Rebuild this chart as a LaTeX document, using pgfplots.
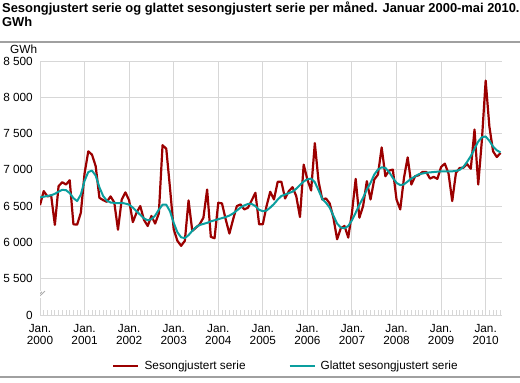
\documentclass[border=0pt]{standalone}
\usepackage{fontspec}
\setmainfont{Liberation Sans}
\usepackage{pgfplots}
\usepackage{pgfplotstable}
\pgfplotsset{compat=1.18}
\definecolor{sred}{RGB}{155,0,0}
\definecolor{steal}{RGB}{10,158,158}
\definecolor{gridgray}{RGB}{215,215,215}
\definecolor{rulegray}{RGB}{160,160,160}

\pgfplotstableread{
m red teal
0 6515 6620
1 6707 6630
2 6634 6640
3 6647 6650
4 6241 6670
5 6775 6700
6 6830 6725
7 6798 6720
8 6857 6680
9 6250 6610
10 6245 6570
11 6410 6660
12 6950 6850
13 7255 6970
14 7209 6990
15 7050 6920
16 6615 6760
17 6583 6640
18 6560 6575
19 6634 6550
20 6551 6545
21 6175 6540
22 6590 6545
23 6690 6535
24 6580 6520
25 6280 6480
26 6410 6430
27 6501 6380
28 6310 6330
29 6227 6305
30 6364 6320
31 6260 6370
32 6400 6450
33 7340 6520
34 7291 6520
35 6752 6430
36 6181 6270
37 6022 6140
38 5953 6070
39 6022 6060
40 6579 6100
41 6159 6160
42 6204 6210
43 6250 6240
44 6341 6255
45 6729 6270
46 6076 6290
47 6058 6305
48 6547 6320
49 6538 6335
50 6318 6350
51 6122 6370
52 6318 6400
53 6501 6440
54 6524 6480
55 6455 6510
56 6478 6530
57 6579 6530
58 6684 6500
59 6250 6450
60 6250 6430
61 6501 6440
62 6698 6480
63 6592 6530
64 6835 6590
65 6835 6640
66 6606 6660
67 6707 6680
68 6761 6700
69 6638 6740
70 6350 6790
71 7072 6840
72 6866 6870
73 6716 6880
74 7369 6830
75 6844 6720
76 6592 6600
77 6606 6547
78 6538 6480
79 6341 6370
80 6044 6260
81 6195 6205
82 6227 6195
83 6067 6227
84 6410 6305
85 6876 6410
86 6341 6520
87 6501 6615
88 6844 6729
89 6592 6821
90 6866 6935
91 6935 7004
92 7309 7035
93 6912 7026
94 6990 6971
95 7004 6889
96 6592 6821
97 6455 6790
98 6889 6800
99 7172 6840
100 6798 6880
101 6912 6910
102 6926 6940
103 6972 6950
104 6972 6960
105 6880 6965
106 6903 6970
107 6876 6975
108 7040 6980
109 7086 6980
110 6950 6980
111 6570 6980
112 6958 6985
113 7026 7000
114 7030 7040
115 7080 7110
116 7015 7190
117 7555 7290
118 6798 7390
119 7420 7450
120 8230 7460
121 7598 7400
122 7255 7320
123 7177 7270
124 7232 7240
}\datatable

\begin{document}
\begin{tikzpicture}
\path[use as bounding box] (0,0) rectangle (520bp,383bp);
\fill[rulegray] (0,340.3bp) rectangle (520bp,342.3bp);
\fill[rulegray] (0,5bp) rectangle (520bp,7bp);
\node[anchor=base west, inner sep=0pt, font=\fontsize{12.9bp}{14bp}\selectfont\bfseries] at (2bp,370.7bp) {Sesongjustert serie og glattet sesongjustert serie per måned. Januar 2000-mai 2010.};
\node[anchor=base west, inner sep=0pt, font=\fontsize{12.9bp}{14bp}\selectfont\bfseries] at (2bp,356.3bp) {GWh};
\node[anchor=base west, inner sep=0pt, font=\fontsize{11.8bp}{12bp}\selectfont] at (10bp,329.7bp) {GWh};
\begin{axis}[
  at={(40bp,68bp)}, anchor=south west,
  scale only axis, width=462bp, height=254bp,
  xmin=0, xmax=124.4, ymin=5000, ymax=8500,
  axis line style={draw=none},
  xtick={0,12,...,120},
  minor xtick={0,...,124},
  xticklabels={{Jan.\\2000},{Jan.\\2001},{Jan.\\2002},{Jan.\\2003},{Jan.\\2004},{Jan.\\2005},{Jan.\\2006},{Jan.\\2007},{Jan.\\2008},{Jan.\\2009},{Jan.\\2010}},
  ytick={5000,5500,6000,6500,7000,7500,8000,8500},
  yticklabels={0,5 500,6 000,6 500,7 000,7 500,8 000,8 500},
  xmajorgrids, ymajorgrids,
  grid style={draw=gridgray, line width=1bp},
  tick align=inside,
  xtick pos=left,
  major tick length=5bp, minor tick length=5bp,
  x tick style={draw=gridgray, line width=0.8bp},
  ytick style={draw=none},
  tick label style={font=\fontsize{11.8bp}{12bp}\selectfont},
  xticklabel style={align=center, anchor=north, inner sep=0pt, yshift=-9bp},
  yticklabel style={anchor=east, inner sep=0pt, xshift=-7bp},
  legend columns=2,
  legend style={at={(0.5325,-0.1996)}, anchor=center, draw=none, fill=none,
    font=\fontsize{11.8bp}{12bp}\selectfont,
    /tikz/every even column/.append style={column sep=41bp},
    /tikz/every odd column/.append style={column sep=3bp}},
  legend image code/.code={\draw[#1] (0bp,0bp) -- (25bp,0bp);},
]
\addplot[draw=sred, line width=2.2bp, line join=round] table[x=m, y=red] {\datatable};
\addlegendentry{Sesongjustert serie}
\addplot[draw=steal, line width=2bp, line join=round] table[x=m, y=teal] {\datatable};
\addlegendentry{Glattet sesongjustert serie}
\fill[white] ([xshift=-2bp]axis cs:0,5240) rectangle ([xshift=2bp]axis cs:0,5330);
\draw[gridgray!80!black, line width=0.8bp] ([xshift=-7bp]axis cs:0,5200) -- ([xshift=2bp]axis cs:0,5320);
\draw[gridgray!80!black, line width=0.8bp] ([xshift=-4bp]axis cs:0,5210) -- ([xshift=5bp]axis cs:0,5330);
\end{axis}
\end{tikzpicture}
\end{document}
